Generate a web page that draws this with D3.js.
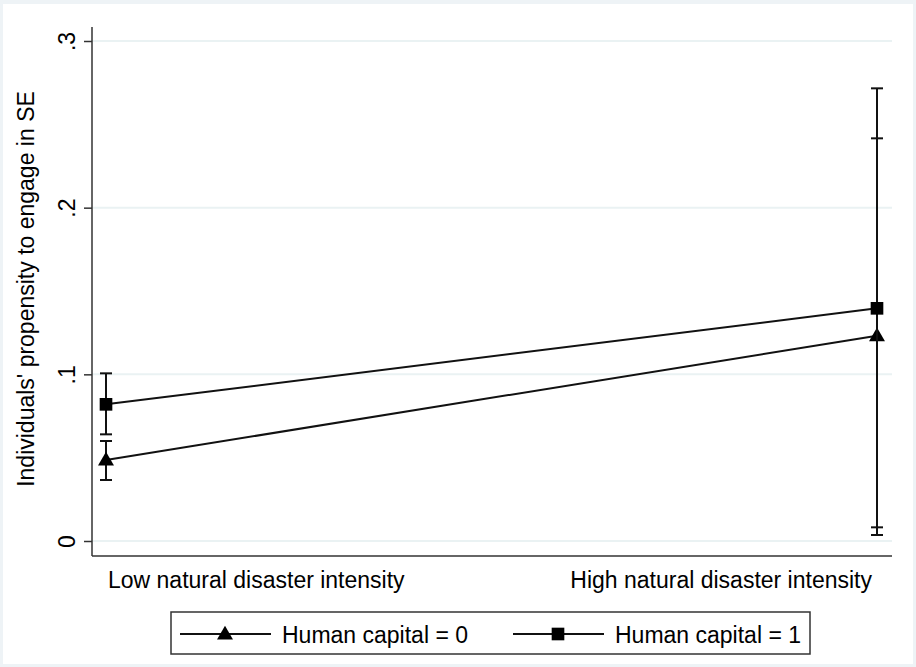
<!DOCTYPE html>
<html>
<head>
<meta charset="utf-8">
<script src="https://cdn.jsdelivr.net/npm/d3@7"></script>
<style>
  body { margin: 0; background: #fff; }
  svg { display: block; font-family: "Liberation Sans", Arial, sans-serif; }
</style>
</head>
<body>
<script>
// categories on the x axis
const categories = ['Low natural disaster intensity', 'High natural disaster intensity'];
// series names (legend)
const seriesNames = ['Human capital = 0', 'Human capital = 1'];
// point estimates and confidence limits, one entry per category
const hc0Values = [0.0486, 0.1232];
const hc0Lower = [0.0366, 0.0036];
const hc0Upper = [0.0600, 0.2416];
const hc1Values = [0.0820, 0.1396];
const hc1Lower = [0.0640, 0.0082];
const hc1Upper = [0.1006, 0.2716];
// y tick values and labels
const yTicks = [0, 0.1, 0.2, 0.3];
const yTickLabels = ['0', '.1', '.2', '.3'];

const width = 916, height = 667;

const series = [
  {name: seriesNames[0], shape: d3.symbolTriangle, values: hc0Values, lo: hc0Lower, hi: hc0Upper},
  {name: seriesNames[1], shape: d3.symbolSquare, values: hc1Values, lo: hc1Lower, hi: hc1Upper}
];

const svg = d3.select('body').append('svg')
  .attr('width', width)
  .attr('height', height);

// outer frame
svg.append('rect').attr('width', width).attr('height', height).attr('fill', '#eef3f6');
svg.append('rect').attr('x', 3).attr('y', 4).attr('width', 910).attr('height', 660).attr('fill', '#fff');

// plot region
const plot = {left: 92, right: 892, top: 27, bottom: 556};

const xScale = d3.scalePoint()
  .domain(categories)
  .range([106, 877]);

const yScale = d3.scaleLinear()
  .domain([0, 0.3])
  .range([541, 41]);

// grid lines
svg.append('g')
  .selectAll('line')
  .data(yTicks)
  .join('line')
  .attr('x1', plot.left)
  .attr('x2', plot.right)
  .attr('y1', d => yScale(d))
  .attr('y2', d => yScale(d))
  .attr('stroke', '#eaf2f3')
  .attr('stroke-width', 2);

// Y axis
const yAxis = d3.axisLeft(yScale)
  .tickValues(yTicks)
  .tickFormat((d, i) => yTickLabels[i])
  .tickSize(8)
  .tickSizeOuter(0);

const gy = svg.append('g')
  .attr('transform', `translate(${plot.left},0)`)
  .call(yAxis);
gy.select('.domain').remove();
gy.selectAll('.tick line').attr('stroke', '#333').attr('stroke-width', 1.5);
gy.selectAll('.tick text')
  .attr('font-size', 23)
  .attr('font-family', '"Liberation Sans", Arial, sans-serif')
  .attr('fill', '#000')
  .attr('text-anchor', 'middle')
  .attr('x', null)
  .attr('dy', null)
  .attr('transform', 'translate(-17,0) rotate(-90)');

// axis lines
svg.append('line')
  .attr('x1', plot.left).attr('x2', plot.left)
  .attr('y1', plot.top).attr('y2', plot.bottom)
  .attr('stroke', '#333').attr('stroke-width', 1.5);
svg.append('line')
  .attr('x1', plot.left).attr('x2', plot.right)
  .attr('y1', plot.bottom).attr('y2', plot.bottom)
  .attr('stroke', '#333').attr('stroke-width', 1.5);

// X labels
svg.append('g')
  .selectAll('text')
  .data(categories)
  .join('text')
  .attr('x', (d, i) => i === 0 ? xScale(d) + 2 : xScale(d) - 5)
  .attr('y', 588)
  .attr('text-anchor', (d, i) => i === 0 ? 'start' : 'end')
  .attr('font-size', 23)
  .attr('fill', '#000')
  .text(d => d);

// Y title
svg.append('text')
  .attr('transform', 'translate(34,289) rotate(-90)')
  .attr('text-anchor', 'middle')
  .attr('font-size', 23)
  .attr('fill', '#000')
  .text("Individuals' propensity to engage in SE");

const line = d3.line()
  .x(d => xScale(d.cat))
  .y(d => yScale(d.v));

series.forEach(function(s) {
  const pts = categories.map((c, i) => ({cat: c, v: s.values[i], lo: s.lo[i], hi: s.hi[i]}));
  const g = svg.append('g');

  // connecting line
  g.append('path')
    .datum(pts)
    .attr('d', line)
    .attr('fill', 'none')
    .attr('stroke', '#111')
    .attr('stroke-width', 2);

  // error bars
  g.selectAll('.bar')
    .data(pts)
    .join('line')
    .attr('x1', d => xScale(d.cat)).attr('x2', d => xScale(d.cat))
    .attr('y1', d => yScale(d.lo)).attr('y2', d => yScale(d.hi))
    .attr('stroke', '#111').attr('stroke-width', 2);
  ['lo', 'hi'].forEach(function(k) {
    g.selectAll('.cap-' + k)
      .data(pts)
      .join('line')
      .attr('x1', d => xScale(d.cat) - 6).attr('x2', d => xScale(d.cat) + 6)
      .attr('y1', d => yScale(d[k])).attr('y2', d => yScale(d[k]))
      .attr('stroke', '#111').attr('stroke-width', 2);
  });

  // markers
  g.selectAll('.pt')
    .data(pts)
    .join('path')
    .attr('d', d3.symbol().type(s.shape).size(s.shape === d3.symbolSquare ? 160 : 110))
    .attr('transform', d => `translate(${xScale(d.cat)},${yScale(d.v) + (s.shape === d3.symbolTriangle ? 1 : 0)})`)
    .attr('fill', '#000');
});

// legend
const legend = svg.append('g');
legend.append('rect')
  .attr('x', 171).attr('y', 612)
  .attr('width', 639).attr('height', 42)
  .attr('fill', '#fff')
  .attr('stroke', '#333')
  .attr('stroke-width', 1.5);

const legendX = [180, 513];
series.forEach(function(s, i) {
  const x0 = legendX[i];
  legend.append('line')
    .attr('x1', x0).attr('x2', x0 + 91)
    .attr('y1', 634).attr('y2', 634)
    .attr('stroke', '#111').attr('stroke-width', 2);
  legend.append('path')
    .attr('d', d3.symbol().type(s.shape).size(s.shape === d3.symbolSquare ? 160 : 110))
    .attr('transform', `translate(${x0 + 45},${634 + (s.shape === d3.symbolTriangle ? 1 : 0)})`)
    .attr('fill', '#000');
  legend.append('text')
    .attr('x', x0 + 102)
    .attr('y', 643)
    .attr('font-size', 23)
    .attr('fill', '#000')
    .text(s.name);
});
</script>
</body>
</html>
